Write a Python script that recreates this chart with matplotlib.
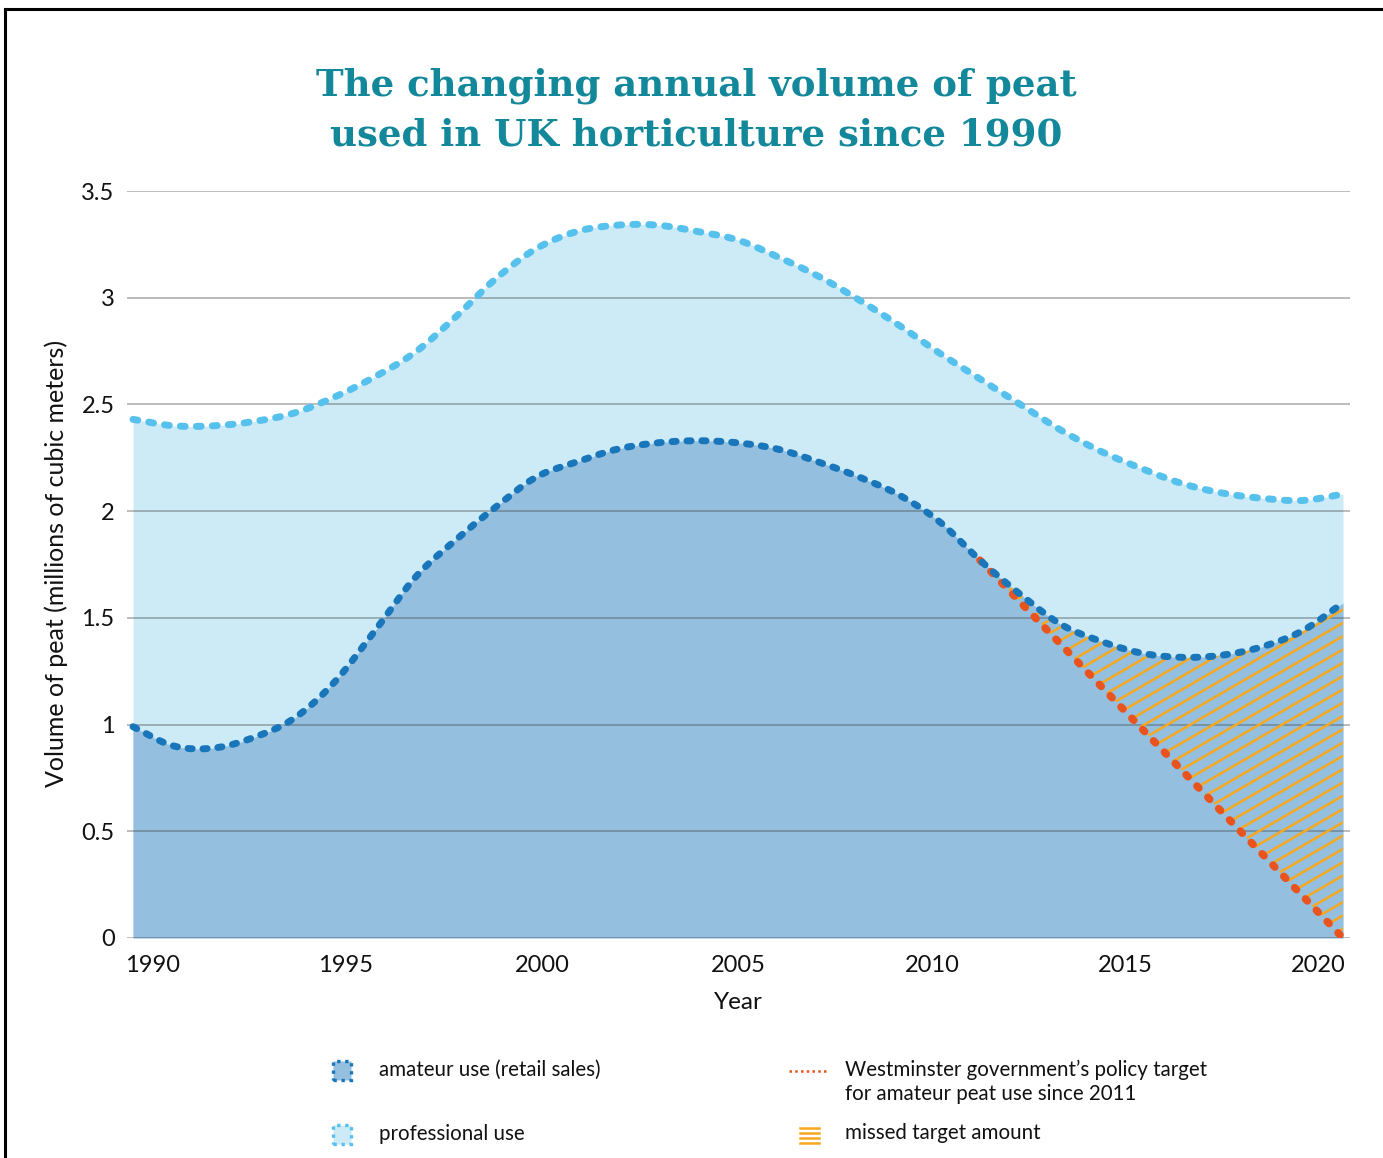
import numpy as np
import matplotlib
matplotlib.use("Agg")
import matplotlib.pyplot as plt
from matplotlib.collections import LineCollection
from matplotlib.patches import Polygon, Rectangle
from matplotlib.lines import Line2D

# ---------------- data ----------------
years = list(range(1990, 2021))
professional_total = [2.43, 2.40, 2.40, 2.42, 2.46, 2.535, 2.63, 2.745, 2.91, 3.09,
                      3.23, 3.31, 3.34, 3.34, 3.31, 3.27, 3.19, 3.10, 2.99, 2.87,
                      2.74, 2.62, 2.50, 2.38, 2.28, 2.20, 2.13, 2.085, 2.06, 2.05, 2.08]
amateur = [0.99, 0.90, 0.89, 0.94, 1.03, 1.20, 1.44, 1.69, 1.865, 2.02,
           2.16, 2.23, 2.29, 2.32, 2.33, 2.32, 2.29, 2.23, 2.16, 2.075,
           1.95, 1.77, 1.61, 1.47, 1.39, 1.335, 1.315, 1.325, 1.365, 1.44, 1.57]
target_years = [2011, 2020]
target_values = [1.77, 0.0]
xtick_labels = ["1990", "1995", "2000", "2005", "2010", "2015", "2020"]
ytick_values = [0, 0.5, 1, 1.5, 2, 2.5, 3, 3.5]
ytick_labels = ["0", "0.5", "1", "1.5", "2", "2.5", "3", "3.5"]
title_lines = ["The changing annual volume of peat", "used in UK horticulture since 1990"]
legend_labels = ["amateur use (retail sales)", "professional use",
                 "Westminster government\u2019s policy target\nfor amateur peat use since 2011",
                 "missed target amount"]

# ---------------- style ----------------
W, H = 1383, 1158
C_LIGHT = "#cdeaf7"
C_DARK = "#95bfdf"
C_PRO = "#56c1ec"
C_AM = "#1a76bb"
C_TGT = "#e9531d"
C_HATCH = "#f6a81f"
C_TITLE = "#12889a"
BODY_FONT = ["Lato", "DejaVu Sans"]

plt.rcParams["font.family"] = BODY_FONT


def fx(px):
    return px / W


def fy(py):
    return 1 - py / H


def smooth(x, y, n=24):
    """Catmull-Rom rendering of the read points (for a smooth drawn curve)."""
    x = np.asarray(x, float)
    y = np.asarray(y, float)
    px = np.concatenate([[2 * x[0] - x[1]], x, [2 * x[-1] - x[-2]]])
    py = np.concatenate([[2 * y[0] - y[1]], y, [2 * y[-1] - y[-2]]])
    t = np.linspace(0, 1, n, endpoint=False)
    ox, oy = [], []
    for i in range(1, len(px) - 2):
        for arr, out in ((px, ox), (py, oy)):
            p0, p1, p2, p3 = arr[i - 1], arr[i], arr[i + 1], arr[i + 2]
            out.extend(0.5 * (2 * p1 + (-p0 + p2) * t + (2 * p0 - 5 * p1 + 4 * p2 - p3) * t ** 2
                              + (-p0 + 3 * p1 - 3 * p2 + p3) * t ** 3))
    ox.append(x[-1])
    oy.append(y[-1])
    return np.array(ox), np.array(oy)


fig = plt.figure(figsize=(W / 100, H / 100), dpi=100)
ax_left, ax_right, ax_top, ax_bottom = 127, 1350, 191, 938
ax = fig.add_axes([fx(ax_left), fy(ax_bottom), (ax_right - ax_left) / W, (ax_bottom - ax_top) / H])

px_per_year = (1343 - 133) / 30.0
x0 = 1990 - (133 - ax_left) / px_per_year
x1 = 2020 + (ax_right - 1343) / px_per_year
ax.set_xlim(x0, x1)
ax.set_ylim(0, 3.5)

sx, sp = smooth(years, professional_total)
_, sa = smooth(years, amateur)

ax.fill_between(sx, 0, sp, color=C_LIGHT, lw=0, zorder=1)
ax.fill_between(sx, 0, sa, color=C_DARK, lw=0, zorder=2)

# gridlines over fills
for v in ytick_values:
    ax.axhline(v, color=(0.25, 0.25, 0.25, 0.38), lw=1.3, zorder=2.5)

# hatch region (missed target)
mask = sx >= target_years[0]
hx = sx[mask]
hu = sa[mask]
hl = np.interp(hx, target_years, target_values)
verts = np.concatenate([np.column_stack([hx, hu]), np.column_stack([hx[::-1], hl[::-1]])])
clip_poly = Polygon(verts, closed=True, transform=ax.transData, fc="none", ec="none")
ax.add_patch(clip_poly)
aspect = (ax_right - ax_left) / (ax_bottom - ax_top)
slope = 0.58 * aspect
spacing = 13.3 / (ax_bottom - ax_top)
segs = [[(0, c), (1, c + slope)] for c in np.arange(-2.0, 1.2, spacing)]
lc = LineCollection(segs, colors=C_HATCH, linewidths=1.8, transform=ax.transAxes, zorder=3)
lc.set_clip_path(clip_poly)
ax.add_collection(lc)

# lines
ax.plot(target_years, target_values, color=C_TGT, lw=5.5, linestyle=(0, (0.35, 1.7)),
        dash_capstyle="round", zorder=4)
ax.plot(sx, sp, color=C_PRO, lw=5, linestyle=(0, (0.7, 1.6)),
        dash_capstyle="round", zorder=5)
ax.plot(sx, sa, color=C_AM, lw=5, linestyle=(0, (0.6, 1.55)),
        dash_capstyle="round", zorder=5)

# axes styling
for s in ax.spines.values():
    s.set_visible(False)
ax.set_facecolor("none")
label_px = [153, 346, 542, 738, 932, 1125, 1318]
ax.set_xticks([1990 + (p - 133) / px_per_year for p in label_px])
ax.set_xticklabels(xtick_labels)
ax.set_yticks(ytick_values)
ax.set_yticklabels(ytick_labels)
ax.tick_params(axis="both", length=0, labelsize=17, colors="#111111")
ax.tick_params(axis="x", pad=12)
ax.tick_params(axis="y", pad=9)
ax.set_xlabel("Year", fontsize=17.5, color="#111111")
ax.xaxis.set_label_coords((738 - ax_left) / (ax_right - ax_left), -(992 - ax_bottom) / (ax_bottom - ax_top))
ax.set_ylabel("Volume of peat (millions of cubic meters)", fontsize=18, color="#111111")
ax.yaxis.set_label_coords(-(ax_left - 68) / (ax_right - ax_left), (ax_bottom - 563) / (ax_bottom - ax_top))

# title
t1 = fig.text(fx(696), fy(96), title_lines[0], ha="center", va="baseline", fontsize=30,
              fontweight="bold", family="DejaVu Serif", color=C_TITLE)
t2 = fig.text(fx(696), fy(146), title_lines[1], ha="center", va="baseline", fontsize=30,
              fontweight="bold", family="DejaVu Serif", color=C_TITLE)
fig.canvas.draw()
w1 = t1.get_window_extent().width
size = 30 * 760.0 / w1
t1.set_fontsize(size)
t2.set_fontsize(size)

# legend (custom)
def legend_square(cx, cy, face, edge):
    r = Rectangle((fx(cx - 9), fy(cy + 9.5)), 18 / W, 19 / H, transform=fig.transFigure,
                  facecolor=face, edgecolor=edge, lw=2.4, linestyle=(0, (1, 1.4)))
    fig.add_artist(r)

LEG_FS = 14.8
legend_square(342, 1070, C_DARK, C_AM)
legend_square(342, 1134, C_LIGHT, C_PRO)
fig.text(fx(379), fy(1070), legend_labels[0], ha="left", va="center", fontsize=LEG_FS, color="#111111")
fig.text(fx(379), fy(1134), legend_labels[1], ha="left", va="center", fontsize=LEG_FS, color="#111111")
fig.add_artist(Line2D([fx(789), fx(828)], [fy(1071), fy(1071)], transform=fig.transFigure,
                      color=C_TGT, lw=1.8, linestyle=(0, (1, 1.3))))
fig.text(fx(845), fy(1082), legend_labels[2], ha="left", va="center", fontsize=LEG_FS,
         color="#111111", linespacing=1.25)
for yy in (1127.5, 1132.5, 1137.5, 1142.5):
    fig.add_artist(Line2D([fx(800), fx(819)], [fy(yy), fy(yy)], transform=fig.transFigure,
                          color=C_HATCH, lw=1.8))
fig.text(fx(845), fy(1133), legend_labels[3], ha="left", va="center", fontsize=LEG_FS, color="#111111")

# outer frame (top and left edges visible)
fig.add_artist(Line2D([fx(5), fx(W)], [fy(9), fy(9)], transform=fig.transFigure, color="black", lw=2.2))
fig.add_artist(Line2D([fx(5), fx(5)], [fy(9), fy(H)], transform=fig.transFigure, color="black", lw=2.2))

fig.savefig("out.png", dpi=100, facecolor="white")
